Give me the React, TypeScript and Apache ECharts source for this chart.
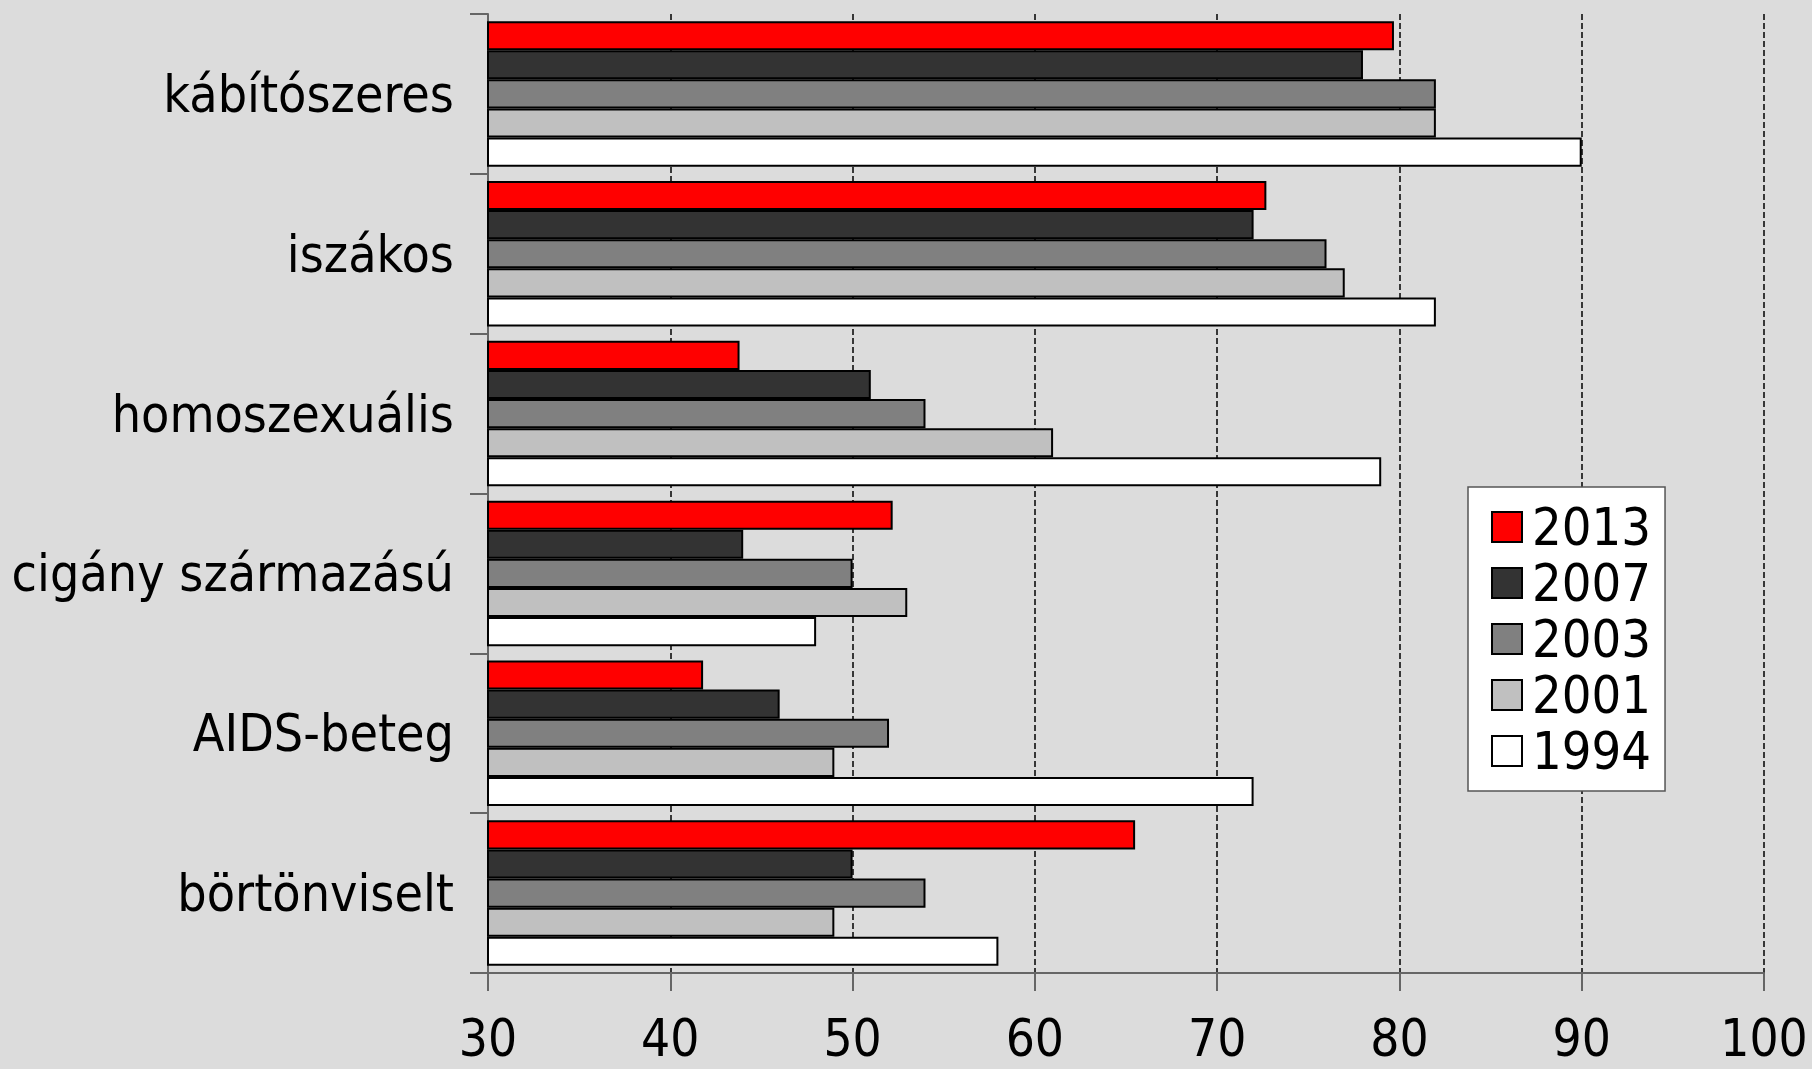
import React, { useEffect, useRef } from "react";
import * as echarts from "echarts";

const categories = ["kábítószeres", "iszákos", "homoszexuális", "cigány származású", "AIDS-beteg", "börtönviselt"];
const seriesNames = ["2013", "2007", "2003", "2001", "1994"];
const v2013 = [79.7, 72.7, 43.8, 52.2, 41.8, 65.5];
const v2007 = [78, 72, 51, 44, 46, 50];
const v2003 = [82, 76, 54, 50, 52, 54];
const v2001 = [82, 77, 61, 53, 49, 49];
const v1994 = [90, 82, 79, 48, 72, 58];
const colors = ["#ff0000", "#333333", "#808080", "#c0c0c0", "#ffffff"];
const FONT = "'DejaVu Sans Condensed', 'DejaVu Sans', sans-serif";

export default function App() {
  const ref = useRef<HTMLDivElement>(null);
  useEffect(() => {
    if (!ref.current) return;
    const chart = echarts.init(ref.current, undefined, { renderer: "svg" });
    const values = [v2013, v2007, v2003, v2001, v1994];
    chart.setOption({
      animation: false,
      backgroundColor: "#dcdcdc",
      textStyle: { fontFamily: FONT },
      grid: { left: 488, right: 48, top: 14, bottom: 96 },
      legend: {
        orient: "vertical",
        left: 1468,
        top: 487,
        padding: [14, 14, 14, 23],
        backgroundColor: "#ffffff",
        borderColor: "#555555",
        borderWidth: 1.5,
        itemWidth: 30,
        itemHeight: 30,
        itemGap: 4,
        icon: "rect",
        data: seriesNames,
        textStyle: { fontSize: 52, color: "#000", fontFamily: FONT, padding: [0, 0, 0, 5] },
      },
      xAxis: {
        type: "value",
        min: 30,
        max: 100,
        interval: 10,
        axisLine: { show: true, lineStyle: { color: "#666666", width: 2 } },
        axisTick: { show: true, length: 18, lineStyle: { color: "#666666", width: 2 } },
        axisLabel: { fontSize: 51, color: "#000", margin: 40, fontFamily: FONT },
        splitLine: { show: true, lineStyle: { color: "#000", type: [6, 3], width: 1.5 } },
      },
      yAxis: {
        type: "category",
        inverse: true,
        data: categories,
        axisLine: { show: true, lineStyle: { color: "#666666", width: 2 } },
        axisTick: { show: true, length: 18, lineStyle: { color: "#666666", width: 2 } },
        axisLabel: { fontSize: 51.5, color: "#000", margin: 34, fontFamily: FONT },
      },
      series: seriesNames.map((n, i) => ({
        name: n,
        type: "bar",
        data: values[i],
        barGap: "0%",
        barCategoryGap: "9%",
        itemStyle: { color: colors[i], borderColor: "#000", borderWidth: 2 },
      })),
    });
    return () => chart.dispose();
  }, []);
  return <div ref={ref} style={{ position: "fixed", left: 0, top: 0, width: 1812, height: 1069 }} />;
}
